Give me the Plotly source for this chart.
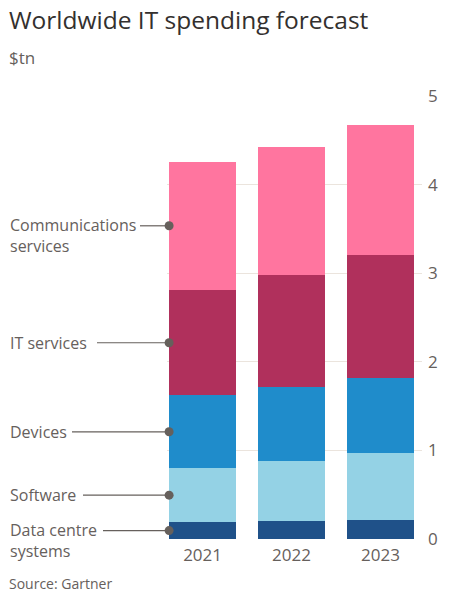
import plotly.graph_objects as go

years = ["2021", "2022", "2023"]
series_names = ["Data centre systems", "Software", "Devices", "IT services", "Communications services"]
data_centre = [0.19, 0.20, 0.21]
software = [0.61, 0.68, 0.76]
devices = [0.82, 0.83, 0.85]
it_services = [1.19, 1.27, 1.38]
communications = [1.45, 1.45, 1.47]
label_texts = ["Data centre<br>systems", "Software", "Devices", "IT services", "Communications<br>services"]
colors = ["#1f5189", "#94d2e5", "#1f8ccb", "#b0305c", "#ff759f"]
y_ticks = [0, 1, 2, 3, 4, 5]

W, H = 449, 606
L, R, T, B = 167, 27, 96, 67
pw = W - L - R
ph = H - T - B
BAR_W = 0.753

series = [data_centre, software, devices, it_services, communications]
font = "Open Sans"
grey = "#66605c"
xpos = list(range(len(years)))

fig = go.Figure()
for name, vals, col in zip(series_names, series, colors):
    fig.add_trace(go.Bar(x=xpos, y=vals, name=name, width=BAR_W,
                         marker=dict(color=col, line=dict(width=0)), hoverinfo="y+name"))

# midpoints of 2021 segments for label dots
mids = []
cum = 0
for vals in series:
    mids.append(cum + vals[0] / 2)
    cum += vals[0]

# line start positions (pixels from left of figure)
line_start_px = [103, 83, 72, 97, 140]
text_left_px = 8
dot_px = 169


def px_x(p):
    return (p - L) / pw


def px_y(p):
    return 1 - (p - T) / ph


for txt, m, lx in zip(label_texts, mids, line_start_px):
    nlines = txt.count("<br>") + 1
    fig.add_annotation(x=px_x(text_left_px), xref="paper", y=m, yref="y", text=txt,
                       showarrow=False, xanchor="left", yanchor="middle", align="left",
                       yshift=-(nlines - 1) * 10,
                       font=dict(family=font, size=16, color=grey))
    fig.add_shape(type="line", xref="paper", yref="y", x0=px_x(lx), x1=px_x(dot_px),
                  y0=m, y1=m, line=dict(color=grey, width=1.2))

fig.add_trace(go.Scatter(x=[xpos[0] - BAR_W / 2] * len(mids), y=mids, mode="markers",
                         marker=dict(color=grey, size=9), showlegend=False, hoverinfo="skip",
                         cliponaxis=False))

fig.add_annotation(x=px_x(7), y=px_y(20), xref="paper", yref="paper", xanchor="left", yanchor="middle",
                   text="Worldwide IT spending forecast", showarrow=False,
                   font=dict(family=font, size=24.5, color="#33302e"))
fig.add_annotation(x=px_x(7), y=px_y(58), xref="paper", yref="paper", xanchor="left", yanchor="middle",
                   text="$tn", showarrow=False, font=dict(family=font, size=17, color=grey))
fig.add_annotation(x=px_x(7), y=px_y(583), xref="paper", yref="paper", xanchor="left", yanchor="middle",
                   text="Source: Gartner", showarrow=False, font=dict(family=font, size=14, color=grey))

fig.update_layout(
    width=W, height=H, margin=dict(l=L, r=R, t=T, b=B),
    barmode="stack", showlegend=False,
    plot_bgcolor="white", paper_bgcolor="white",
    xaxis=dict(range=[-0.4, 2.466], tickvals=xpos, ticktext=years, showgrid=False, zeroline=False,
               showline=False, ticks="", ticklabelstandoff=4,
               tickfont=dict(family=font, size=17, color=grey)),
    yaxis=dict(side="right", range=[0, 5], tickvals=y_ticks, showgrid=True, gridcolor="#ebe4dd",
               gridwidth=1, zeroline=False, showline=False, ticks="", ticklabelstandoff=5,
               tickfont=dict(family=font, size=17, color=grey)),
)

fig.write_html("out.html", config={"displayModeBar": False},
               post_script="document.body.style.margin='0';document.body.style.padding='0';")
